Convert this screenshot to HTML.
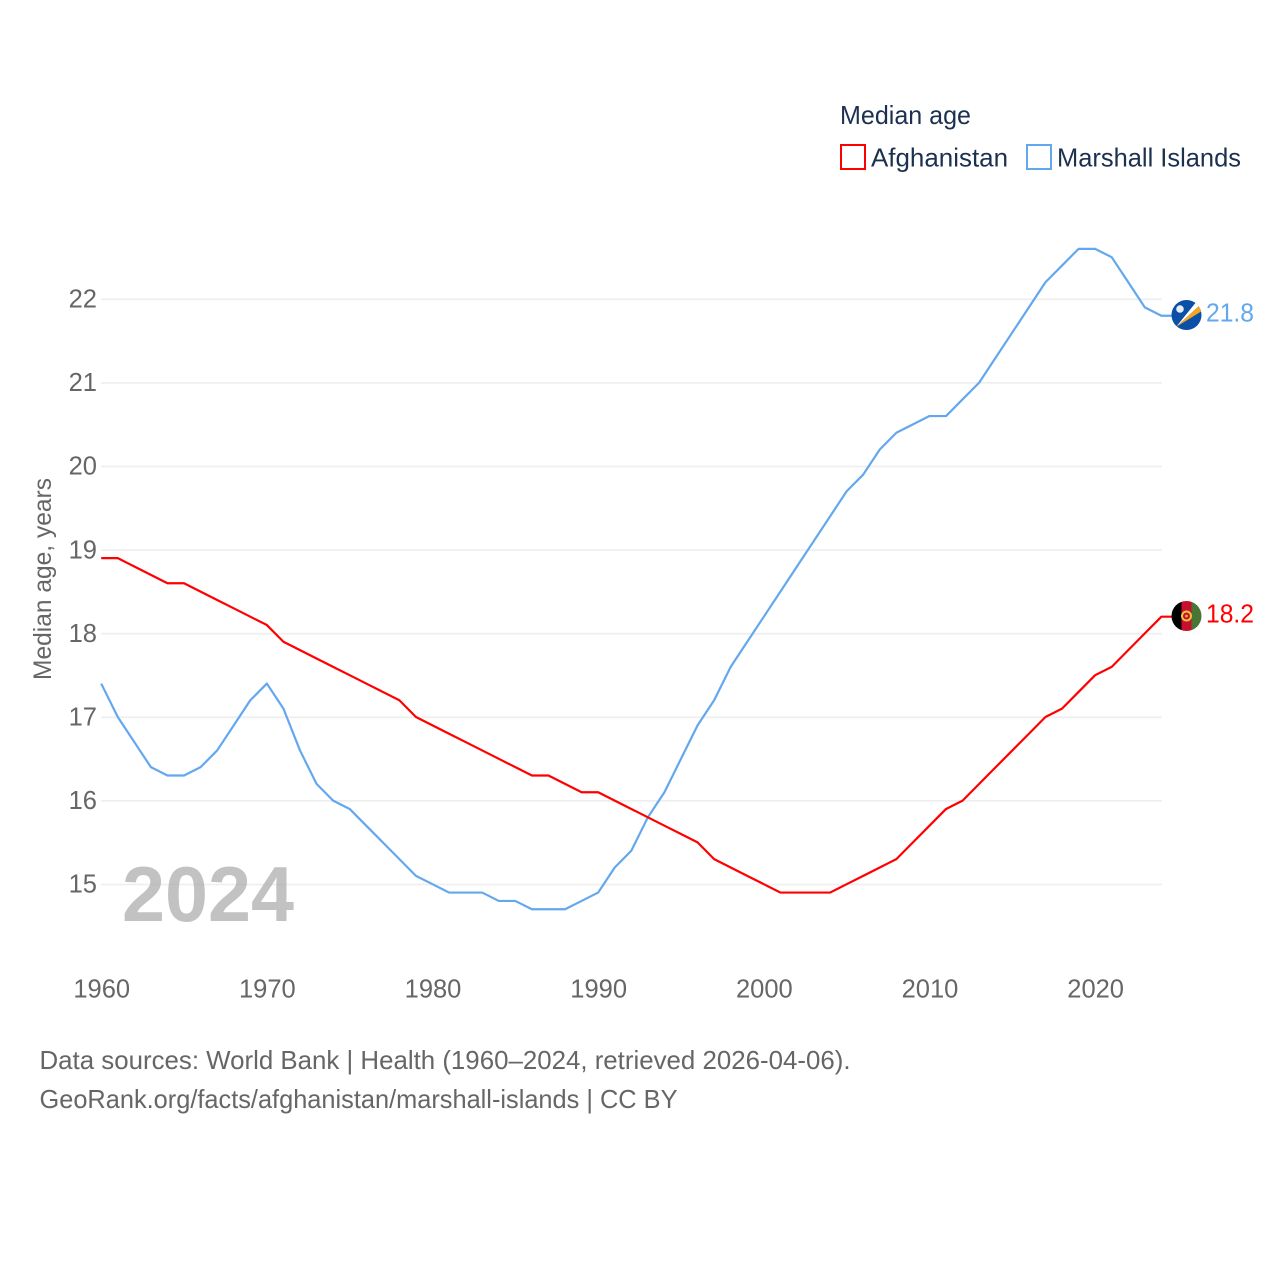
<!DOCTYPE html>
<html lang="en">
<head>
<meta charset="utf-8">
<title>Median age: Afghanistan and Marshall Islands</title>
<style>
html,body{margin:0;padding:0;background:#fff;width:1280px;height:1280px;overflow:hidden}
svg{display:block}
text{font-family:"Liberation Sans",sans-serif}
</style>
</head>
<body>
<svg id="chart" xmlns="http://www.w3.org/2000/svg" width="1280" height="1280" viewBox="0 0 1280 1280">
  <defs>
    <clipPath id="flag-clip-mh"><circle cx="1186.5" cy="315" r="15"/></clipPath>
    <clipPath id="flag-clip-af"><circle cx="1186.5" cy="616" r="15"/></clipPath>
  </defs>
  <rect width="1280" height="1280" fill="#fff"/>
  <g id="grid"></g>
  <g id="yticks"></g>
  <g id="xticks"></g>
  <text transform="translate(51 579) rotate(-90)" text-anchor="middle" font-size="25" fill="#666" textLength="202" lengthAdjust="spacingAndGlyphs">Median age, years</text>
  <text x="122" y="921" font-size="78" font-weight="700" fill="#aaa" fill-opacity="0.72" textLength="172" lengthAdjust="spacingAndGlyphs">2024</text>
  <g id="series"></g>

  <g clip-path="url(#flag-clip-mh)">
    <rect x="1171" y="300" width="31" height="30" fill="#0a4fa8"/>
    <polygon points="1176,327 1197,301 1200,305" fill="#ffffff"/>
    <polygon points="1176,327 1200,305 1202,311" fill="#f6a623"/>
    <circle cx="1180" cy="309" r="3.8" fill="#e8eef5"/>
  </g>
  <g clip-path="url(#flag-clip-af)">
    <rect x="1171" y="601" width="10.5" height="30" fill="#000"/>
    <rect x="1181.5" y="601" width="10" height="30" fill="#c8102e"/>
    <rect x="1191.5" y="601" width="10" height="30" fill="#4a7434"/>
    <circle cx="1186.5" cy="616" r="4.5" fill="none" stroke="#f0c33c" stroke-width="2"/>
    <circle cx="1186.5" cy="616" r="1.3" fill="#f0c33c"/>
  </g>

  <text x="1206" y="321.5" font-size="25.5" fill="#63a8ee" textLength="48" lengthAdjust="spacingAndGlyphs">21.8</text>
  <text x="1206" y="622.5" font-size="25.5" fill="#ff0000" textLength="48" lengthAdjust="spacingAndGlyphs">18.2</text>

  <g>
    <text x="840" y="124" font-size="26" fill="#1c3150" textLength="131" lengthAdjust="spacingAndGlyphs">Median age</text>
    <rect x="841" y="145" width="24" height="24" fill="none" stroke="#ff0000" stroke-width="2"/>
    <text x="871" y="166.5" font-size="26" fill="#1c3150" textLength="137" lengthAdjust="spacingAndGlyphs">Afghanistan</text>
    <rect x="1027" y="145" width="24" height="24" fill="none" stroke="#63a8ee" stroke-width="2"/>
    <text x="1057" y="166.5" font-size="26" fill="#1c3150" textLength="184" lengthAdjust="spacingAndGlyphs">Marshall Islands</text>
  </g>

  <g>
    <text x="39.5" y="1069" font-size="26" fill="#666" textLength="811" lengthAdjust="spacingAndGlyphs">Data sources: World Bank | Health (1960–2024, retrieved 2026-04-06).</text>
    <text x="39.5" y="1108" font-size="26" fill="#666" textLength="638" lengthAdjust="spacingAndGlyphs">GeoRank.org/facts/afghanistan/marshall-islands | CC BY</text>
  </g>
</svg>
<script>
const years = [1960,1961,1962,1963,1964,1965,1966,1967,1968,1969,1970,1971,1972,1973,1974,1975,1976,1977,1978,1979,1980,1981,1982,1983,1984,1985,1986,1987,1988,1989,1990,1991,1992,1993,1994,1995,1996,1997,1998,1999,2000,2001,2002,2003,2004,2005,2006,2007,2008,2009,2010,2011,2012,2013,2014,2015,2016,2017,2018,2019,2020,2021,2022,2023,2024];
const afghanistan = [18.9,18.9,18.8,18.7,18.6,18.6,18.5,18.4,18.3,18.2,18.1,17.9,17.8,17.7,17.6,17.5,17.4,17.3,17.2,17.0,16.9,16.8,16.7,16.6,16.5,16.4,16.3,16.3,16.2,16.1,16.1,16.0,15.9,15.8,15.7,15.6,15.5,15.3,15.2,15.1,15.0,14.9,14.9,14.9,14.9,15.0,15.1,15.2,15.3,15.5,15.7,15.9,16.0,16.2,16.4,16.6,16.8,17.0,17.1,17.3,17.5,17.6,17.8,18.0,18.2];
const marshallIslands = [17.4,17.0,16.7,16.4,16.3,16.3,16.4,16.6,16.9,17.2,17.4,17.1,16.6,16.2,16.0,15.9,15.7,15.5,15.3,15.1,15.0,14.9,14.9,14.9,14.8,14.8,14.7,14.7,14.7,14.8,14.9,15.2,15.4,15.8,16.1,16.5,16.9,17.2,17.6,17.9,18.2,18.5,18.8,19.1,19.4,19.7,19.9,20.2,20.4,20.5,20.6,20.6,20.8,21.0,21.3,21.6,21.9,22.2,22.4,22.6,22.6,22.5,22.2,21.9,21.8];
const yTickValues = [15,16,17,18,19,20,21,22];
const xTickValues = [1960,1970,1980,1990,2000,2010,2020];

const NS = 'http://www.w3.org/2000/svg';
function xScale(year){ return 101.2 + (year - 1960) * (1161.4 - 101.2) / 64; }
function yScale(value){ return 884.2 - (value - 15) * (884.2 - 299) / 7; }

const gridGroup = document.getElementById('grid');
const yGroup = document.getElementById('yticks');
const xGroup = document.getElementById('xticks');
const seriesGroup = document.getElementById('series');

yTickValues.forEach(function(v){
  const line = document.createElementNS(NS, 'line');
  
  
  line.setAttribute('x1', 101);
  line.setAttribute('x2', 1162);
  line.setAttribute('y1', yScale(v) + 0.3);
  line.setAttribute('y2', yScale(v) + 0.3);
  line.setAttribute('stroke', '#efefef');
  line.setAttribute('stroke-width', '1.8');
  gridGroup.appendChild(line);

  const label = document.createElementNS(NS, 'text');
  
  
  label.setAttribute('x', 97);
  label.setAttribute('y', yScale(v) + 8.5);
  label.setAttribute('text-anchor', 'end');
  label.setAttribute('font-size', '25.5');
  label.setAttribute('fill', '#666');
  label.textContent = v;
  yGroup.appendChild(label);
});

xTickValues.forEach(function(t){
  const label = document.createElementNS(NS, 'text');
  
  
  label.setAttribute('x', xScale(t) + 0.5);
  label.setAttribute('y', 997.3);
  label.setAttribute('text-anchor', 'middle');
  label.setAttribute('font-size', '25.5');
  label.setAttribute('fill', '#666');
  label.textContent = t;
  xGroup.appendChild(label);
});

function drawSeries(values, color, name){
  const pts = values.map(function(v, i){ return xScale(years[i]).toFixed(2) + ',' + yScale(v).toFixed(2); });
  const last = values[values.length - 1];
  pts.push('1172,' + yScale(last).toFixed(2));
  const path = document.createElementNS(NS, 'polyline');
  
  
  path.setAttribute('points', pts.join(' '));
  path.setAttribute('fill', 'none');
  path.setAttribute('stroke', color);
  path.setAttribute('stroke-width', '2.2');
  path.setAttribute('stroke-linejoin', 'round');
  seriesGroup.appendChild(path);
}
drawSeries(marshallIslands, '#63a8ee', 'series-line-marshall-islands');
drawSeries(afghanistan, '#ff0000', 'series-line-afghanistan');
</script>
</body>
</html>
